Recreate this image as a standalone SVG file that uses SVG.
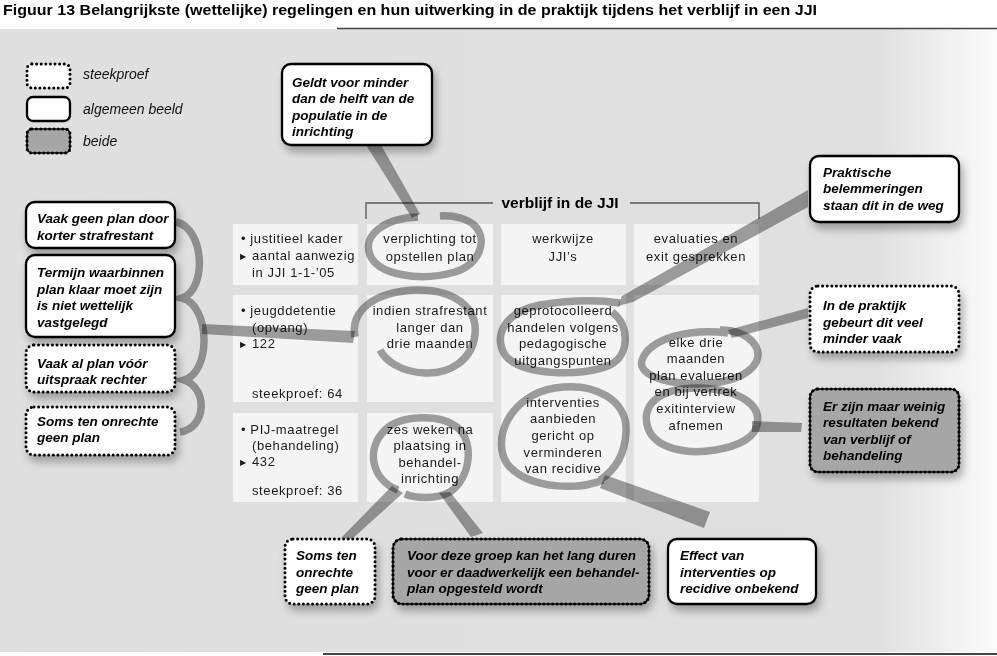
<svg xmlns="http://www.w3.org/2000/svg" width="997" height="656" viewBox="0 0 997 656">
<defs>
<linearGradient id="bg" x1="0" y1="0" x2="1" y2="0">
<stop offset="0" stop-color="#dfdfdf"/>
<stop offset="0.88" stop-color="#e0e0e0"/>
<stop offset="1" stop-color="#fbfbfb"/>
</linearGradient>
<filter id="sh" x="-20%" y="-20%" width="150%" height="160%">
<feDropShadow dx="3" dy="6" stdDeviation="4" flood-color="#000" flood-opacity="0.3"/>
</filter>
<style>
.title{font-family:"Liberation Sans",Arial,sans-serif;font-weight:bold;font-size:14px;fill:#000}
.cell{fill:#f4f4f4}
.ct{font-family:"Liberation Sans",Arial,sans-serif;font-size:13px;letter-spacing:0.6px;fill:#1a1a1a}
.mid{text-anchor:middle}
.co{font-family:"Liberation Sans",Arial,sans-serif;font-weight:bold;font-style:italic;font-size:13.5px;fill:#000}
.lg{font-family:"Liberation Sans",Arial,sans-serif;font-style:italic;font-size:14px;fill:#111}
.solid{fill:#fff;stroke:#000;stroke-width:2.3}
.dotw{fill:#fff;stroke:#000;stroke-width:3;stroke-dasharray:0 4.6;stroke-linecap:round}
.both{fill:#a6a6a6;stroke:#111;stroke-width:1.6}
.bothd{fill:none;stroke:#000;stroke-width:3.2;stroke-dasharray:0 4.4;stroke-linecap:round}
.sw{fill:none;stroke:#a2a2a2;stroke-width:7.5;mix-blend-mode:multiply}
.tl{fill:#a2a2a2;mix-blend-mode:multiply}
.br{fill:none;stroke:#555;stroke-width:1.3}
.tri{font-family:"DejaVu Sans",sans-serif;font-size:8px;fill:#1a1a1a}
</style>
</defs>

<rect x="0" y="0" width="997" height="656" fill="#fff"/>
<rect x="0" y="29" width="997" height="623" fill="url(#bg)"/>
<line x1="337" y1="28.5" x2="997" y2="28.5" stroke="#444" stroke-width="1.5"/>
<line x1="323" y1="654" x2="997" y2="654" stroke="#444" stroke-width="2"/>

<text class="title" x="3" y="15" textLength="814" lengthAdjust="spacingAndGlyphs">Figuur 13 Belangrijkste (wettelijke) regelingen en hun uitwerking in de praktijk tijdens het verblijf in een JJI</text>

<g id="legend">
<rect class="dotw" x="27" y="64" width="43" height="24" rx="5"/>
<text class="lg" x="83" y="79">steekproef</text>
<rect class="solid" x="27" y="97" width="43" height="24" rx="6"/>
<text class="lg" x="83" y="114">algemeen beeld</text>
<rect class="both" x="27" y="129" width="43" height="24" rx="5"/>
<rect class="bothd" x="27" y="129" width="43" height="24" rx="5"/>
<text class="lg" x="83" y="146">beide</text>
</g>

<g id="table">
<rect class="cell" x="233" y="224" width="125" height="61"/>
<rect class="cell" x="367" y="224" width="126" height="61"/>
<rect class="cell" x="501" y="224" width="125" height="61"/>
<rect class="cell" x="634" y="224" width="125" height="61"/>
<rect class="cell" x="233" y="295" width="125" height="107"/>
<rect class="cell" x="367" y="295" width="126" height="107"/>
<rect class="cell" x="501" y="295" width="125" height="207"/>
<rect class="cell" x="634" y="295" width="125" height="207"/>
<rect class="cell" x="233" y="413" width="125" height="89"/>
<rect class="cell" x="367" y="413" width="126" height="89"/>
</g>

<g id="bracket">
<polyline class="br" points="366,219 366,203 493,203"/>
<polyline class="br" points="630,203 759,203 759,219"/>
<text x="560" y="208" text-anchor="middle" font-family="Liberation Sans, Arial, sans-serif" font-weight="bold" font-size="15.5" fill="#000">verblijf in de JJI</text>
</g>

<g id="cell-texts">
<text class="ct" x="241" y="243">• justitieel kader</text>
<text class="tri" x="240" y="259">▶</text>
<text class="ct" x="252" y="260">aantal aanwezig</text>
<text class="ct" x="252" y="277">in JJI 1-1-’05</text>
<text class="ct" x="241" y="315">• jeugddetentie</text>
<text class="ct" x="252" y="332">(opvang)</text>
<text class="tri" x="240" y="347">▶</text>
<text class="ct" x="252" y="348">122</text>
<text class="ct" x="252" y="398">steekproef: 64</text>
<text class="ct" x="241" y="434">• PIJ-maatregel</text>
<text class="ct" x="252" y="450">(behandeling)</text>
<text class="tri" x="240" y="465">▶</text>
<text class="ct" x="252" y="466">432</text>
<text class="ct" x="252" y="495">steekproef: 36</text>

<text class="ct mid" x="430" y="243">verplichting tot</text>
<text class="ct mid" x="430" y="261">opstellen plan</text>
<text class="ct mid" x="430" y="315">indien strafrestant</text>
<text class="ct mid" x="430" y="332">langer dan</text>
<text class="ct mid" x="430" y="348">drie maanden</text>
<text class="ct mid" x="430" y="434">zes weken na</text>
<text class="ct mid" x="430" y="450">plaatsing in</text>
<text class="ct mid" x="430" y="467">behandel-</text>
<text class="ct mid" x="430" y="483">inrichting</text>

<text class="ct mid" x="563" y="243">werkwijze</text>
<text class="ct mid" x="563" y="261">JJI’s</text>
<text class="ct mid" x="563" y="315">geprotocolleerd</text>
<text class="ct mid" x="563" y="332">handelen volgens</text>
<text class="ct mid" x="563" y="348">pedagogische</text>
<text class="ct mid" x="563" y="365">uitgangspunten</text>
<text class="ct mid" x="563" y="407">interventies</text>
<text class="ct mid" x="563" y="423">aanbieden</text>
<text class="ct mid" x="563" y="440">gericht op</text>
<text class="ct mid" x="563" y="457">verminderen</text>
<text class="ct mid" x="563" y="473">van recidive</text>

<text class="ct mid" x="696" y="243">evaluaties en</text>
<text class="ct mid" x="696" y="261">exit gesprekken</text>
<text class="ct mid" x="696" y="347">elke drie</text>
<text class="ct mid" x="696" y="363">maanden</text>
<text class="ct mid" x="696" y="380">plan evalueren</text>
<text class="ct mid" x="696" y="396">en bij vertrek</text>
<text class="ct mid" x="696" y="413">exitinterview</text>
<text class="ct mid" x="696" y="430">afnemen</text>
</g>

<g id="connectors">
<polygon class="tl" points="366,145 381,145 420,214 412,218"/>
<path class="sw" d="M418,217 C385,218 362,235 370,255 C378,275 420,282 455,272 C480,264 488,240 475,226 C468,219 455,215 440,216"/>
<path class="sw" stroke-width="9" d="M176,222 C205,228 207,290 182,298 C210,305 212,372 184,380 C208,388 207,428 180,432"/>
<polygon class="tl" points="202,324 355,331 353,343 202,334"/>
<path class="sw" d="M355,337 C350,310 375,292 415,290 C455,289 478,308 475,335 C472,360 450,374 425,373 C400,372 385,360 380,350"/>
<path class="sw" d="M398,490 C372,480 365,450 385,430 C400,415 440,413 458,428 C475,444 470,478 450,492 C435,500 415,498 405,494"/>
<polygon class="tl" points="392,486 403,493 352,539 341,538"/>
<polygon class="tl" points="439,493 450,492 483,533 471,537"/>
<polygon class="tl" points="808,190 808,207 633,302 618,306 622,296"/>
<path class="sw" d="M620,303 C600,300 570,300 540,305 C505,312 493,335 505,355 C520,375 580,378 610,365 C630,355 630,325 612,312"/>
<path class="sw" d="M603,480 C580,490 530,490 508,465 C490,440 510,395 555,388 C595,382 628,400 626,432 C625,455 615,470 600,480"/>
<polygon class="tl" points="605,475 710,512 704,528 600,488"/>
<path class="sw" d="M728,333 C690,328 650,338 642,360 C636,378 680,388 720,382 C750,377 765,360 755,345 C748,335 735,330 720,330"/>
<polygon class="tl" points="728,330 808,308 808,318 732,338"/>
<path class="sw" d="M757,425 C762,405 740,390 700,388 C660,387 640,405 648,428 C655,448 685,455 715,450 C740,446 755,437 757,425"/>
<polygon class="tl" points="752,421 802,423 801,432 752,432"/>
</g>

<g id="c-geldt" filter="url(#sh)">
<rect class="solid" x="282" y="64" width="150" height="81" rx="9"/>
<text class="co" x="292" y="87">Geldt voor minder</text>
<text class="co" x="292" y="103">dan de helft van de</text>
<text class="co" x="292" y="120">populatie in de</text>
<text class="co" x="292" y="136">inrichting</text>
</g>

<g id="c-praktische" filter="url(#sh)">
<rect class="solid" x="810" y="156" width="149" height="66" rx="9"/>
<text class="co" x="823" y="177">Praktische</text>
<text class="co" x="823" y="193">belemmeringen</text>
<text class="co" x="823" y="210">staan dit in de weg</text>
</g>

<g id="c-inpraktijk" filter="url(#sh)">
<rect class="dotw" x="810" y="286" width="149" height="66" rx="8"/>
<text class="co" x="823" y="310">In de praktijk</text>
<text class="co" x="823" y="327">gebeurt dit veel</text>
<text class="co" x="823" y="343">minder vaak</text>
</g>

<g id="c-resultaten" filter="url(#sh)">
<rect class="both" x="810" y="389" width="149" height="83" rx="8"/>
<rect class="bothd" x="810" y="389" width="149" height="83" rx="8"/>
<text class="co" x="823" y="411">Er zijn maar weinig</text>
<text class="co" x="823" y="427">resultaten bekend</text>
<text class="co" x="823" y="444">van verblijf of</text>
<text class="co" x="823" y="460">behandeling</text>
</g>

<g id="c-vaakgeen" filter="url(#sh)">
<rect class="solid" x="26" y="202" width="149" height="46" rx="9"/>
<text class="co" x="37" y="223">Vaak geen plan door</text>
<text class="co" x="37" y="240">korter strafrestant</text>
</g>

<g id="c-termijn" filter="url(#sh)">
<rect class="solid" x="26" y="255" width="149" height="82" rx="9"/>
<text class="co" x="37" y="277">Termijn waarbinnen</text>
<text class="co" x="37" y="294">plan klaar moet zijn</text>
<text class="co" x="37" y="310">is niet wettelijk</text>
<text class="co" x="37" y="327">vastgelegd</text>
</g>

<g id="c-vaakal" filter="url(#sh)">
<rect class="dotw" x="26" y="345" width="149" height="47" rx="8"/>
<text class="co" x="37" y="368">Vaak al plan vóór</text>
<text class="co" x="37" y="384">uitspraak rechter</text>
</g>

<g id="c-soms-left" filter="url(#sh)">
<rect class="dotw" x="26" y="407" width="149" height="48" rx="8"/>
<text class="co" x="37" y="426">Soms ten onrechte</text>
<text class="co" x="37" y="442">geen plan</text>
</g>

<g id="c-soms-bottom" filter="url(#sh)">
<rect class="dotw" x="285" y="539" width="90" height="65" rx="8"/>
<text class="co" x="296" y="560">Soms ten</text>
<text class="co" x="296" y="577">onrechte</text>
<text class="co" x="296" y="593">geen plan</text>
</g>

<g id="c-voordeze" filter="url(#sh)">
<rect class="both" x="393" y="539" width="256" height="65" rx="9"/>
<rect class="bothd" x="393" y="539" width="256" height="65" rx="9"/>
<text class="co" x="407" y="560">Voor deze groep kan het lang duren</text>
<text class="co" x="407" y="577">voor er daadwerkelijk een behandel-</text>
<text class="co" x="407" y="593">plan opgesteld wordt</text>
</g>

<g id="c-effect" filter="url(#sh)">
<rect class="solid" x="668" y="539" width="148" height="65" rx="9"/>
<text class="co" x="680" y="560">Effect van</text>
<text class="co" x="680" y="577">interventies op</text>
<text class="co" x="680" y="593">recidive onbekend</text>
</g>
</svg>
